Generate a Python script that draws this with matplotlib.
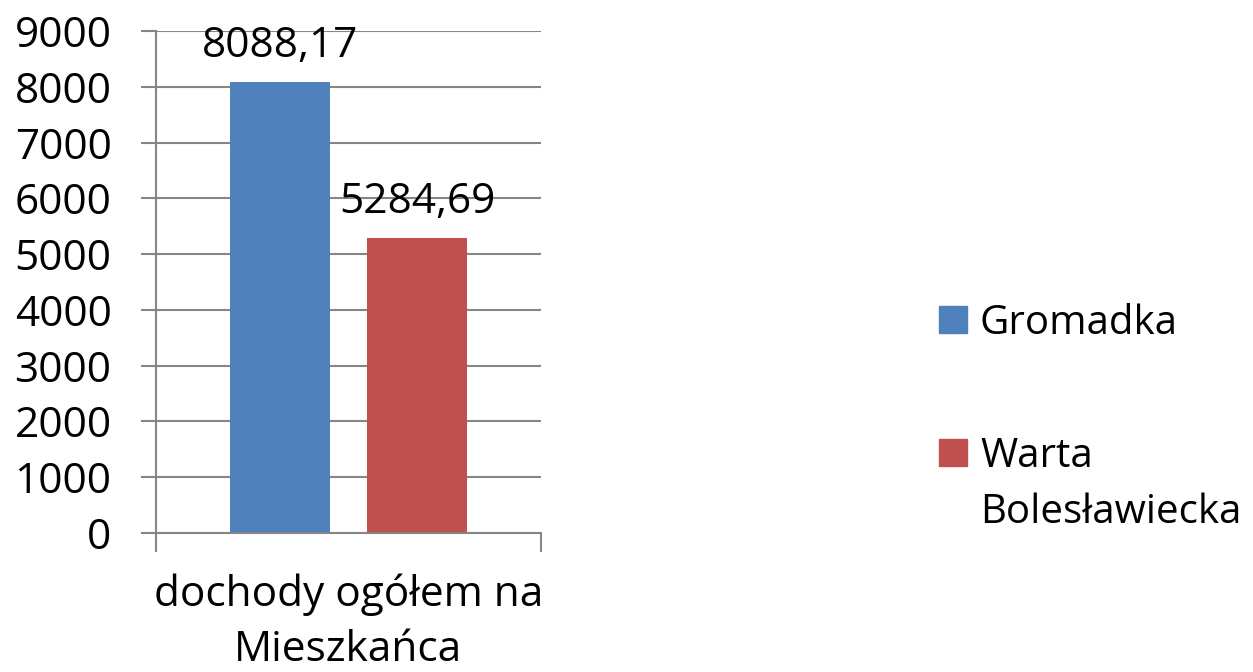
import matplotlib.pyplot as plt
from matplotlib.patches import Rectangle

plt.rcParams['font.family'] = ['Open Sans', 'DejaVu Sans']

# dane
kategoria = "dochody ogółem na\nMieszkańca"
serie = ["Gromadka", "Warta\nBolesławiecka"]
wartosci = [8088.17, 5284.69]
kolory = ["#4F81BD", "#C0504D"]
y_ticks = list(range(0, 9001, 1000))

W, H = 1253, 672
fig = plt.figure(figsize=(W / 100, H / 100), dpi=100)
ax = fig.add_axes([156 / W, 1 - 533 / H, 385 / W, (533 - 31) / H])

szer = 0.26
przes = [-0.178, 0.178]
szary = "#868686"
fs = 30.5

for x, v, c in zip(przes, wartosci, kolory):
    ax.bar(x, v, width=szer, color=c, zorder=3)
    etykieta = f"{v:.2f}".replace(".", ",")
    ax.annotate(etykieta, (x, v), xytext=(0, 18), textcoords="offset points",
                ha="center", va="baseline", fontsize=fs)

ax.set_xlim(-0.5, 0.5)
ax.set_ylim(0, 9000)
ax.set_yticks(y_ticks)
ax.set_yticklabels([str(t) for t in y_ticks], fontsize=fs)
ax.yaxis.grid(True, color=szary, linewidth=1.5)
ax.set_axisbelow(True)

# granice kategorii jako znaczniki, podpis kategorii jako minor tick
ax.set_xticks([-0.5, 0.5])
ax.set_xticklabels(["", ""])
ax.set_xticks([0], minor=True)
ax.set_xticklabels([kategoria], minor=True, fontsize=fs, linespacing=1.42)
ax.tick_params(axis="x", which="major", length=14, width=1.5, color=szary)
ax.tick_params(axis="x", which="minor", length=0, pad=29)
ax.tick_params(axis="y", length=11, width=1.5, color=szary, pad=21)

for s in ["top", "right"]:
    ax.spines[s].set_visible(False)
for s in ["left", "bottom"]:
    ax.spines[s].set_color(szary)
    ax.spines[s].set_linewidth(1.5)
ax.spines["bottom"].set_zorder(4)

# legenda
poz_y = [333, 466]
for nazwa, c, yb in zip(serie, kolory, poz_y):
    fig.add_artist(Rectangle((939 / W, 1 - yb / H), 28 / W, 27 / H,
                             transform=fig.transFigure, color=c))
    for i, linia in enumerate(nazwa.split("\n")):
        fig.text(980 / W, 1 - (yb + 1 + i * 56) / H, linia, fontsize=29,
                 va="baseline", ha="left")

fig.savefig("out.png", dpi=100)
